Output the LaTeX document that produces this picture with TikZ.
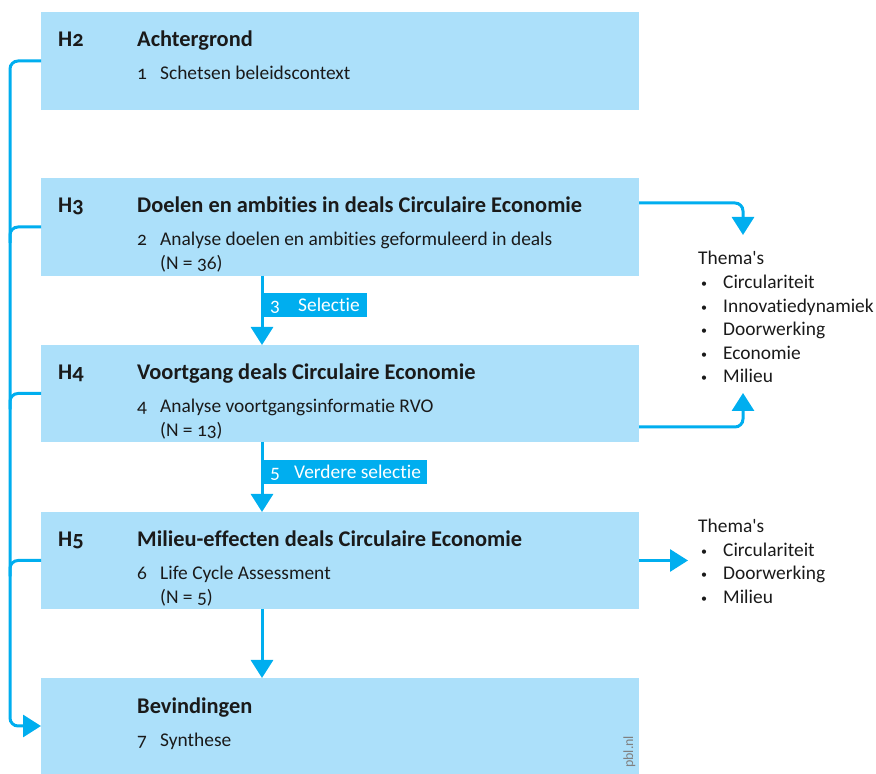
\documentclass[tikz,border=0pt]{standalone}
\usepackage{fontspec}
\setmainfont{Carlito}[Numbers=OldStyle, Ligatures=NoCommon]
\usetikzlibrary{arrows.meta}
\definecolor{boxblue}{HTML}{ACE0FA}
\definecolor{linkblue}{HTML}{00AEEF}
\definecolor{txt}{HTML}{1A1A1A}
\newcommand{\blt}{\raisebox{1pt}{\fontsize{12}{12}\selectfont\textbullet}}
\begin{document}
\begin{tikzpicture}[x=1pt,y=1pt,
  box/.style={fill=boxblue, draw=none, anchor=north west, minimum width=598pt, inner sep=0pt, outer sep=0pt},
  ttl/.style={anchor=base west, inner sep=0pt, font=\fontsize{22.4}{26}\selectfont\bfseries, text=txt},
  itm/.style={anchor=base west, inner sep=0pt, font=\fontsize{19.4}{22}\selectfont, text=txt},
  tagtxt/.style={anchor=base west, inner sep=0pt, font=\fontsize{19.4}{22}\selectfont, text=white},
  conn/.style={draw=linkblue, line width=3pt, rounded corners=8pt},
  tip/.style={-{Triangle[width=22pt,length=18pt]}},
  tagbox/.style={fill=linkblue, draw=none, anchor=north west, minimum height=24pt, inner sep=0pt, outer sep=0pt}
]
\useasboundingbox (0,0) rectangle (876,774);

% boxes
\node[box, minimum height=98pt] (b1) at (41,762) {};
\node[box, minimum height=98pt] (b2) at (41,596) {};
\node[box, minimum height=97pt] (b3) at (41,429) {};
\node[box, minimum height=97pt] (b4) at (41,262) {};
\node[box, minimum height=96pt] (b5) at (41,96) {};

% box texts
\node[ttl] (h2) at (58,727) {H2};
\node[ttl] (t1) at (137,727) {Achtergrond};
\node[itm] (n1) at (137,694) {1};
\node[itm] (i1) at (160,694) {Schetsen beleidscontext};

\node[ttl] (h3) at (58,561) {H3};
\node[ttl] (t2) at (137,561) {Doelen en ambities in deals Circulaire Economie};
\node[itm] (n2) at (137,528) {2};
\node[itm] (i2) at (160,528) {Analyse doelen en ambities geformuleerd in deals};
\node[itm] (c2) at (160,504) {(N = 36)};

\node[ttl] (h4) at (58,394) {H4};
\node[ttl] (t3) at (137,394) {Voortgang deals Circulaire Economie};
\node[itm] (n3) at (137,361) {4};
\node[itm] (i3) at (160,361) {Analyse voortgangsinformatie RVO};
\node[itm] (c3) at (160,337) {(N = 13)};

\node[ttl] (h5) at (58,227) {H5};
\node[ttl] (t4) at (137,227) {Milieu-effecten deals Circulaire Economie};
\node[itm] (n4) at (137,194) {6};
\node[itm] (i4) at (160,194) {Life Cycle Assessment};
\node[itm] (c4) at (160,170) {(N = 5)};

\node[ttl] (t5) at (137,60) {Bevindingen};
\node[itm] (n5) at (137,27) {7};
\node[itm] (i5) at (160,27) {Synthese};

\node[rotate=90, inner sep=0pt, font=\fontsize{14}{16}\selectfont, text=gray, anchor=base west] (pbl) at (633,6) {pbl.nl};

% vertical arrows
\draw[conn, tip] (b2.south -| 262,0) -- (b3.north -| 262,0);
\draw[conn, tip] (b3.south -| 262,0) -- (b4.north -| 262,0);
\draw[conn, tip] (b4.south -| 262,0) -- (b5.north -| 262,0);

% tags
\node[tagbox, minimum width=105pt] (s3) at (262,481) {};
\node[tagtxt] (s3n) at (270,462) {3};
\node[tagtxt] (s3t) at (298,462) {Selectie};
\node[tagbox, minimum width=165pt] (s5) at (262,314) {};
\node[tagtxt] (s5n) at (270,295) {5};
\node[tagtxt] (s5t) at (294,295) {Verdere selectie};

% left trunk
\draw[conn, tip] (b1.west) -- (b1.west -| 10,0) -- (b5.west -| 10,0) -- (b5.west);
\draw[conn] (b2.west) -- (b2.west -| 10,0) -- ++(0,-16);
\draw[conn] (b3.west) -- (b3.west -| 10,0) -- ++(0,-16);
\draw[conn] (b4.west) -- (b4.west -| 10,0) -- ++(0,-16);

% themes 1
\node[itm] (th1) at (698,509) {Thema\textquotesingle s};
\foreach \nm/\yy/\lbl in {a/485.4/Circulariteit, b/461.8/Innovatiedynamiek, c/438.2/Doorwerking, d/414.6/Economie, e/391/Milieu}{
  \node[itm] (bu\nm) at (701,\yy) {\blt};
  \node[itm] (tx\nm) at (723,\yy) {\lbl};
}
\coordinate (r1) at (743,539);
\coordinate (r2) at (743,381);
\draw[conn, tip] (b2.east |- 0,571) -- (r1 |- 0,571) -- (r1);
\draw[conn, tip] (b3.east |- 0,347) -- (r2 |- 0,347) -- (r2);

% themes 2
\node[itm] (th2) at (698,241) {Thema\textquotesingle s};
\foreach \nm/\yy/\lbl in {f/217.5/Circulariteit, g/194/Doorwerking, h/170.5/Milieu}{
  \node[itm] (bu\nm) at (701,\yy) {\blt};
  \node[itm] (tx\nm) at (723,\yy) {\lbl};
}
\coordinate (r3) at (688,0 |- b4.east);
\draw[conn, tip] (b4.east) -- (r3);
\end{tikzpicture}
\end{document}
